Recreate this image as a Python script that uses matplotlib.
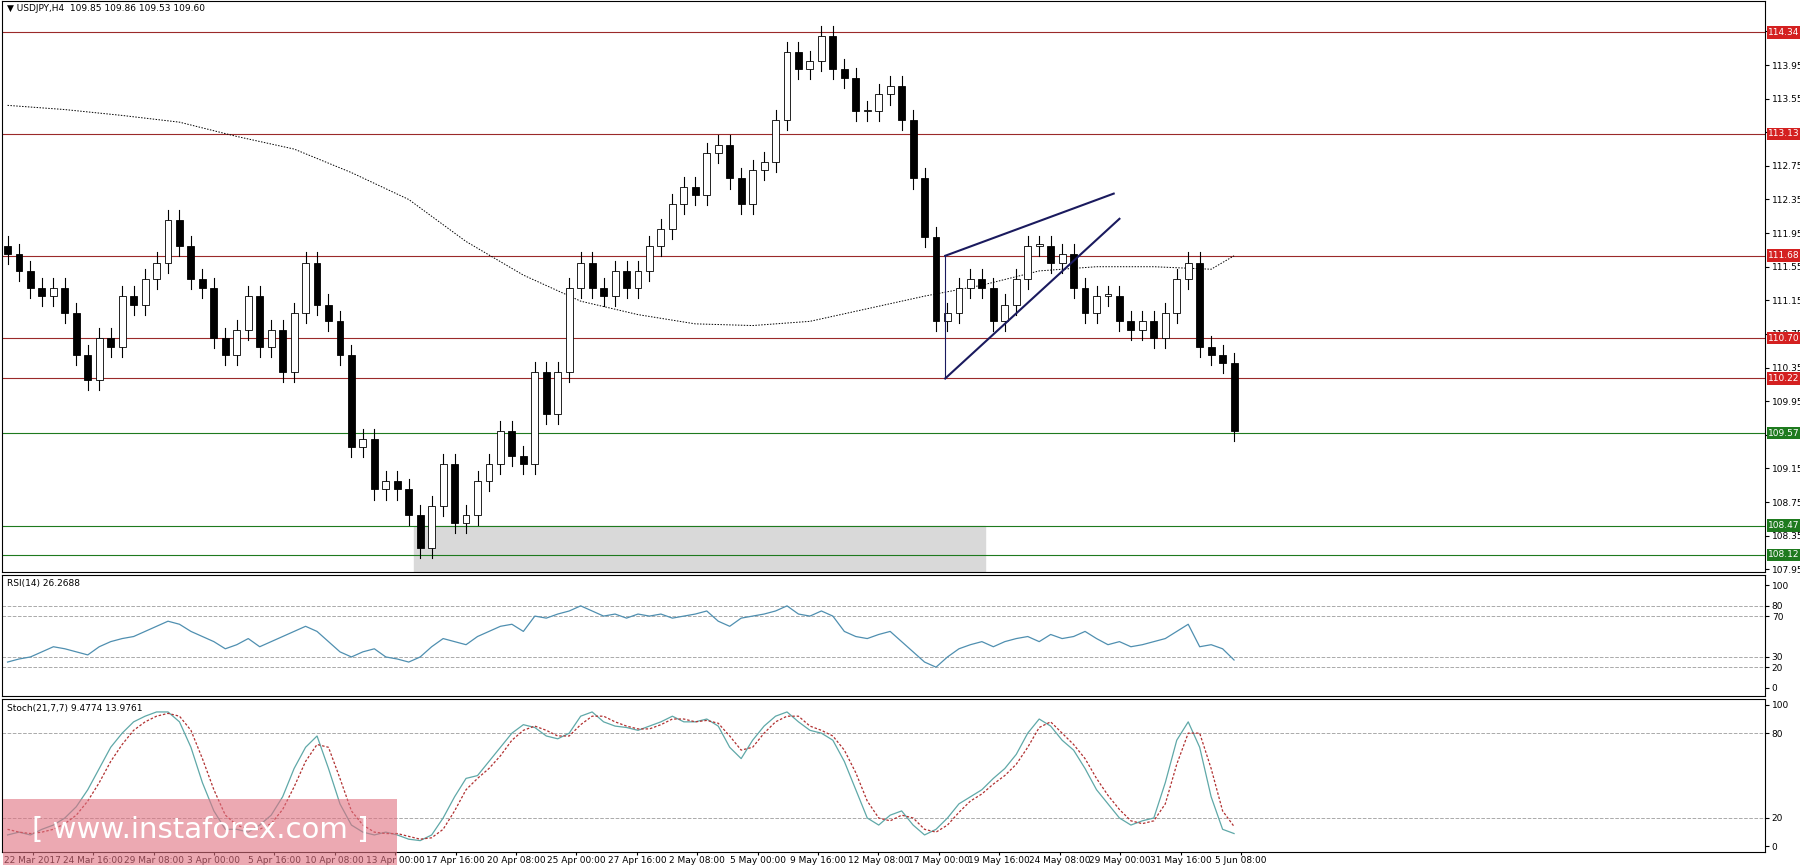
import matplotlib
matplotlib.use("Agg")
import matplotlib.pyplot as plt
import numpy as np
from matplotlib.patches import Rectangle

closes = [111.7,111.5,111.3,111.2,111.3,111.0,110.5,110.2,110.7,110.6,
          111.2,111.1,111.4,111.6,112.1,111.8,111.4,111.3,110.7,110.5,
          110.8,111.2,110.6,110.8,110.3,111.0,111.6,111.1,110.9,110.5,
          109.4,109.5,108.9,109.0,108.9,108.6,108.2,108.7,109.2,108.5,
          108.6,109.0,109.2,109.6,109.3,109.2,110.3,109.8,110.3,111.3,
          111.6,111.3,111.2,111.5,111.3,111.5,111.8,112.0,112.3,112.5,
          112.4,112.9,113.0,112.6,112.3,112.7,112.8,113.3,114.1,113.9,
          114.0,114.3,113.9,113.8,113.4,113.4,113.6,113.7,113.3,112.6,
          111.9,110.9,111.0,111.3,111.4,111.3,110.9,111.1,111.4,111.8,
          111.8,111.6,111.7,111.3,111.0,111.2,111.2,110.9,110.8,110.9,
          110.7,111.0,111.4,111.6,110.6,110.5,110.4,109.6]
first_open = 111.8
ma_x = list(range(0, 108, 5)) + [107]
ma_vals = [113.47,113.42,113.35,113.27,113.1,112.95,112.67,112.35,111.85,111.45,
           111.14,110.98,110.87,110.85,110.9,111.05,111.2,111.33,111.5,111.55,
           111.55,111.52,111.68]
rsi = [25,28,30,35,40,38,35,32,40,45,
       48,50,55,60,65,62,55,50,45,38,
       42,48,40,45,50,55,60,55,45,35,
       30,35,38,30,28,25,30,40,48,45,
       42,50,55,60,62,55,70,68,72,75,
       80,75,70,72,68,72,70,72,68,70,
       72,75,65,60,68,70,72,75,80,72,
       70,75,70,55,50,48,52,55,45,35,
       25,20,30,38,42,45,40,45,48,50,
       45,52,48,50,55,48,42,45,40,42,
       45,48,55,62,40,42,38,27]
stoch_k = [8,10,8,12,15,20,28,40,55,70,
           80,88,92,95,95,88,70,45,25,12,
           12,10,15,22,35,55,70,78,55,30,
           15,10,8,10,8,5,4,8,20,35,
           48,50,60,70,80,86,84,78,76,80,
           92,95,88,85,84,82,85,88,92,88,
           88,90,85,70,62,75,85,92,95,88,
           82,80,75,60,40,20,15,22,25,15,
           8,12,20,30,35,40,48,55,65,80,
           90,85,75,68,55,40,30,20,15,18,
           20,45,75,88,70,35,12,9]
stoch_d = [12,10,9,10,12,16,22,32,45,60,
           72,82,88,92,94,92,82,62,40,22,
           15,12,12,16,26,42,60,72,70,48,
           25,15,10,9,9,7,5,6,12,25,
           40,48,55,64,75,82,85,82,78,78,
           86,92,92,88,85,83,83,86,90,90,
           88,89,87,78,68,70,80,88,92,92,
           85,82,78,68,52,32,20,18,22,20,
           12,10,15,24,32,37,44,50,58,70,
           84,88,80,72,62,48,36,26,18,16,
           18,30,58,80,80,55,25,14]
red_levels = [114.34, 113.13, 111.68, 110.70, 110.22]
green_levels = [109.57, 108.47, 108.12]
zone = (35.5, 85.3, 107.9, 108.47)
wedge_upper = ([81.8, 96.5], [111.68, 112.42])
wedge_lower = ([81.8, 97.0], [110.22, 112.12])
date_labels = ["22 Mar 2017","24 Mar 16:00","29 Mar 08:00","3 Apr 00:00","5 Apr 16:00",
               "10 Apr 08:00","13 Apr 00:00","17 Apr 16:00","20 Apr 08:00","25 Apr 00:00",
               "27 Apr 16:00","2 May 08:00","5 May 00:00","9 May 16:00","12 May 08:00",
               "17 May 00:00","19 May 16:00","24 May 08:00","29 May 00:00","31 May 16:00",
               "5 Jun 08:00"]

XMAX = 153.3
FS = 6.5
fig = plt.figure(figsize=(18, 8.68), dpi=100)
W = 1763/1800
H = 756
ax = fig.add_axes([0.001, 1-498/H, W, 497/H])
ar = fig.add_axes([0.001, 1-606/H, W, 105/H])
ast = fig.add_axes([0.001, 1-742/H, W, 133/H])
for a in (ax, ar, ast):
    a.set_xlim(-0.5, XMAX)
    a.yaxis.tick_right()
    a.tick_params(axis='y', labelsize=FS, length=3, pad=2)
    a.tick_params(axis='x', bottom=False, labelbottom=False)
    for s in a.spines.values():
        s.set_linewidth(0.8)

red_c = '#d42020'; line_red = '#9b2a2a'; green_c = '#1e7a1e'
ax.set_ylim(107.92, 114.71)
ax.set_yticks(np.arange(107.95, 114.5, 0.4))
ax.set_yticklabels([f"{v:.2f}" for v in np.arange(107.95, 114.5, 0.4)])
ax.add_patch(Rectangle((zone[0], zone[2]), zone[1]-zone[0], zone[3]-zone[2], color='#d9d9d9', zorder=0))
for lv in red_levels:
    ax.axhline(lv, color=line_red, lw=0.8, zorder=1)
for lv in green_levels:
    ax.axhline(lv, color=green_c, lw=0.8, zorder=1)
ax.plot(ma_x, ma_vals, color='black', lw=0.7, ls=(0, (1.5, 1.5)), zorder=2)
opens = [first_open] + closes[:-1]
for i, (o, c) in enumerate(zip(opens, closes)):
    hi = max(o, c) + 0.12; lo = min(o, c) - 0.12
    ax.plot([i, i], [lo, hi], color='black', lw=0.8, zorder=3)
    bull = c >= o
    ax.add_patch(Rectangle((i-0.3, min(o, c)), 0.6, max(abs(c-o), 0.02),
                           facecolor='white' if bull else 'black', edgecolor='black', lw=0.6, zorder=4))
ax.plot(*wedge_upper, color='#1a1a5e', lw=1.5, zorder=5)
ax.plot(*wedge_lower, color='#1a1a5e', lw=1.5, zorder=5)
ax.plot([81.8, 81.8], [110.22, 111.68], color='#1a1a5e', lw=0.8, zorder=5)
for lv, col in [(l, red_c) for l in red_levels] + [(l, green_c) for l in green_levels]:
    ax.text(1.002, lv, f"{lv:.2f}", transform=ax.get_yaxis_transform(), fontsize=FS, color='white',
            va='center', ha='left', bbox=dict(boxstyle='square,pad=0.2', fc=col, ec='none'), zorder=10)
ax.text(0.003, 0.995, "▼ USDJPY,H4  109.85 109.86 109.53 109.60", transform=ax.transAxes,
        fontsize=FS, va='top', ha='left')

x = np.arange(len(rsi))
ar.set_ylim(-8, 110)
ar.set_yticks([0, 20, 30, 70, 80, 100])
for lv in [20, 30, 70, 80]:
    ar.axhline(lv, color='#aaaaaa', lw=0.7, ls='--')
ar.plot(x, rsi, color='#4f8fb0', lw=0.9)
ar.text(0.003, 0.97, "RSI(14) 26.2688", transform=ar.transAxes, fontsize=FS, va='top')

ast.set_ylim(-4, 104)
ast.set_yticks([0, 20, 80, 100])
for lv in [20, 80]:
    ast.axhline(lv, color='#aaaaaa', lw=0.7, ls='--')
ast.plot(np.arange(len(stoch_k)), stoch_k, color='#5fa8a8', lw=0.9)
ast.plot(np.arange(len(stoch_d)), stoch_d, color='#b03030', lw=0.9, ls=(0, (2, 1.5)))
ast.text(0.003, 0.97, "Stoch(21,7,7) 9.4774 13.9761", transform=ast.transAxes, fontsize=FS, va='top')
tick_pos = 2.2 + 5.27*np.arange(len(date_labels))
ast.set_xticks(tick_pos)
ast.set_xticklabels(date_labels, fontsize=FS)
ast.tick_params(axis='x', bottom=True, labelbottom=True, length=2, pad=1)

fig.patches.append(Rectangle((3/1800, 3/868), 394/1800, 66/868, transform=fig.transFigure,
                             facecolor='#e07080', alpha=0.6, edgecolor='none', zorder=20))
fig.text(200/1800, 38/868, "[ www.instaforex.com ]", fontsize=21, color='white',
         va='center', ha='center', zorder=21)
fig.savefig("out.png", dpi=100, facecolor='white')
